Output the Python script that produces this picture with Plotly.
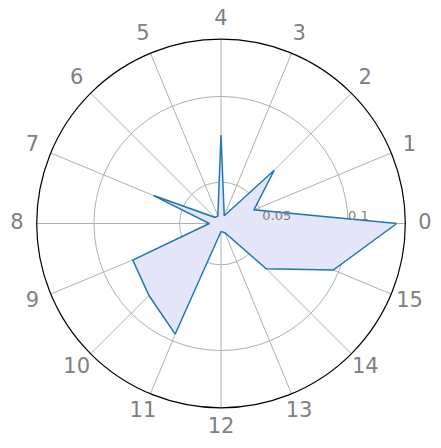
import plotly.graph_objects as go

categories = [str(i) for i in range(16)]
values = [0.1284, 0.0467, 0.0698, 0.0308, 0.0775, 0.0307, 0.0310, 0.0685,
          0.0327, 0.0816, 0.0853, 0.0957, 0.0306, 0.0317, 0.0632, 0.0968]
radial_ticks = [0.05, 0.1]
radial_ticklabels = ["0.05", "0.1"]
radial_range = [0.0259, 0.1334]
label_r = 0.958  # relative radius of category labels in the overlay polar

theta = categories + [categories[0]]
r = values + [values[0]]

fig = go.Figure()
fig.add_trace(go.Scatterpolar(
    r=r, theta=theta, mode="lines",
    line=dict(color="#1f77b4", width=1.5),
    fill="toself", fillcolor="rgba(230,230,250,1)",
    showlegend=False, hoverinfo="skip", subplot="polar",
))
fig.add_trace(go.Scatterpolar(
    r=radial_ticks, theta=[categories[0]] * len(radial_ticks),
    mode="text", text=radial_ticklabels, textposition="top right",
    textfont=dict(size=13, color="#808080", family="DejaVu Sans"),
    showlegend=False, hoverinfo="skip", subplot="polar",
))
fig.add_trace(go.Scatterpolar(
    r=[label_r] * len(categories), theta=categories,
    mode="text", text=categories, textposition="middle center",
    textfont=dict(size=21, color="#808080", family="DejaVu Sans"),
    cliponaxis=False, showlegend=False, hoverinfo="skip", subplot="polar2",
))

hidden_ang = dict(type="category", categoryarray=categories, rotation=0,
                  direction="counterclockwise", showline=False, showgrid=False,
                  showticklabels=False, ticks="")

fig.update_layout(
    width=441, height=448,
    margin=dict(l=0, r=0, t=0, b=0),
    paper_bgcolor="white",
    font=dict(family="DejaVu Sans"),
    polar=dict(
        domain=dict(x=[0.06508, 0.90091], y=[0.10759, 0.93036]),
        bgcolor="white",
        angularaxis=dict(
            type="category", categoryarray=categories,
            rotation=0, direction="counterclockwise",
            showline=True, linecolor="black", linewidth=1.2,
            showgrid=True, gridcolor="#b0b0b0", gridwidth=1,
            ticks="", showticklabels=False,
        ),
        radialaxis=dict(
            range=radial_range, angle=0,
            tickvals=radial_ticks, showticklabels=False,
            showline=False, ticks="",
            showgrid=True, gridcolor="#b0b0b0", gridwidth=1,
        ),
    ),
    polar2=dict(
        domain=dict(x=[0.0, 0.96599], y=[0.04353, 0.99442]),
        bgcolor="rgba(0,0,0,0)",
        angularaxis=hidden_ang,
        radialaxis=dict(range=[0, 1], visible=False),
    ),
)

fig.write_html("out.html")
